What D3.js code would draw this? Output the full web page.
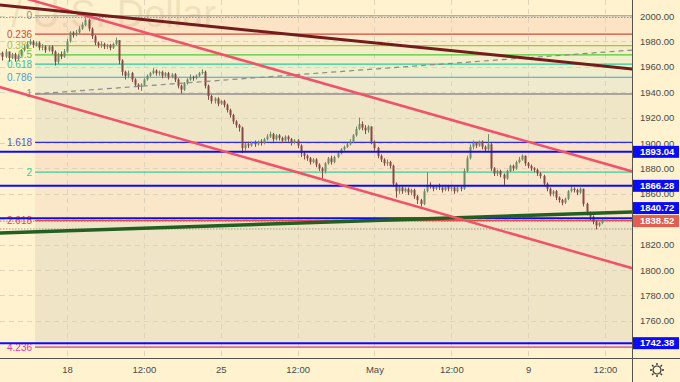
<!DOCTYPE html>
<html>
<head>
<meta charset="utf-8">
<script src="https://cdn.jsdelivr.net/npm/d3@7"></script>
<style>
  html, body { margin: 0; padding: 0; background: #fff3cf; }
  svg { display: block; font-family: "Liberation Sans", Arial, sans-serif; }
</style>
</head>
<body>
<svg id="chart" width="680" height="382"></svg>
<script>
// candles, one per bar index (open = previous close)
var firstOpen = 1969;
var closes = [
  1971,1968,1972,1967,1970,1966,1969,1973,1975,1978,
  1980,1977,1979,1975,1976,1973,1976,1972,1964,1970,
  1968,1972,1980,1987,1985,1987,1990,1993,1997,1990,
  1984,1979,1977,1978,1976,1977,1975,1978,1981,1965,
  1956,1953,1955,1950,1946,1944,1946,1950,1953,1955,
  1957,1955,1956,1953,1955,1952,1954,1950,1945,1942,
  1947,1950,1952,1951,1953,1955,1956,1945,1937,1933,
  1935,1931,1933,1930,1926,1922,1917,1914,1912,1896,
  1899,1898,1900,1899,1901,1900,1903,1905,1907,1903,
  1906,1904,1902,1905,1903,1900,1902,1898,1892,1890,
  1888,1885,1887,1883,1880,1878,1884,1888,1885,1889,
  1892,1895,1897,1899,1901,1906,1911,1915,1912,1910,
  1913,1901,1896,1890,1887,1884,1885,1882,1868,1862,
  1865,1862,1864,1861,1863,1858,1855,1852,1862,1867,
  1866,1864,1866,1865,1863,1866,1864,1865,1862,1865,
  1864,1878,1888,1897,1900,1898,1901,1897,1895,1899,
  1880,1876,1878,1875,1872,1878,1882,1880,1885,1887,
  1890,1884,1882,1880,1879,1876,1874,1868,1864,1860,
  1862,1857,1855,1853,1856,1862,1864,1863,1861,1864,
  1852,1845,1842,1838,1835,1837,1838.52
];
var highs = [
  1973,1972,1974,1972,1971,1971,1970,1974,1977,1980,
  1982,1981,1980,1980,1978,1977,1977,1977,1973,1971,
  1972,1974,1982,1988,1988,1989,1992,1995,1999,1998,
  1991,1985,1980,1980,1979,1978,1978,1979,1983,1981,
  1966,1957,1957,1956,1951,1947,1947,1951,1954,1956,
  1959,1958,1957,1957,1956,1956,1955,1955,1951,1946,
  1948,1951,1954,1953,1954,1956,1958,1957,1946,1938,
  1936,1936,1934,1934,1931,1927,1923,1918,1915,1913,
  1900,1901,1901,1902,1902,1903,1904,1907,1909,1908,
  1907,1907,1905,1906,1906,1904,1903,1903,1899,1893,
  1891,1889,1888,1888,1884,1881,1885,1889,1890,1890,
  1893,1896,1898,1900,1903,1907,1913,1920,1917,1914,
  1914,1913,1902,1897,1891,1888,1887,1886,1883,1869,
  1866,1866,1865,1865,1864,1864,1859,1856,1864,1877,
  1869,1867,1867,1868,1866,1867,1867,1866,1866,1866,
  1866,1880,1890,1899,1902,1901,1902,1902,1898,1907,
  1900,1881,1879,1879,1876,1879,1883,1883,1886,1889,
  1891,1890,1885,1883,1881,1880,1877,1875,1869,1865,
  1863,1863,1858,1856,1857,1863,1866,1865,1864,1865,
  1864,1853,1846,1843,1839,1838,1840
];
var lows = [
  1967,1965,1967,1964,1966,1964,1965,1968,1972,1974,
  1977,1975,1976,1973,1973,1971,1972,1970,1961,1962,
  1966,1967,1971,1979,1983,1984,1986,1989,1992,1988,
  1982,1977,1975,1975,1974,1974,1973,1974,1977,1962,
  1953,1950,1951,1948,1944,1942,1941,1945,1949,1952,
  1954,1953,1953,1951,1952,1950,1951,1948,1943,1939,
  1941,1946,1949,1949,1950,1952,1954,1943,1934,1931,
  1931,1929,1930,1928,1924,1920,1915,1912,1909,1892,
  1894,1896,1897,1897,1898,1898,1899,1902,1904,1901,
  1902,1902,1900,1901,1901,1898,1899,1896,1889,1887,
  1886,1883,1884,1881,1878,1872,1876,1883,1883,1884,
  1888,1891,1894,1896,1898,1900,1905,1910,1910,1907,
  1908,1899,1894,1888,1885,1882,1882,1880,1866,1857,
  1860,1860,1861,1859,1859,1856,1852,1850,1851,1861,
  1864,1862,1863,1863,1861,1862,1862,1862,1860,1861,
  1862,1863,1877,1887,1895,1896,1897,1895,1893,1894,
  1878,1874,1874,1873,1867,1871,1877,1878,1879,1884,
  1886,1882,1880,1878,1877,1874,1872,1866,1862,1858,
  1858,1855,1853,1851,1852,1855,1861,1861,1859,1860,
  1850,1843,1839,1836,1832,1834,1836
];

var timeTicks = [22, 47, 72, 97, 122, 147, 172, 197];
var timeLabels = ["18", "12:00", "25", "12:00", "May", "12:00", "9", "12:00"];
var priceTicks = [1760, 1780, 1800, 1820, 1840, 1860, 1880, 1900, 1920, 1940, 1960, 1980, 2000];

// fibonacci retracement
var fibRatios = [0, 0.236, 0.382, 0.5, 0.618, 0.786, 1, 1.618, 2, 2.618, 4.236];
var fibLabels = ["0", "0.236", "0.382", "0.5", "0.618", "0.786", "1", "1.618", "2", "2.618", "4.236"];
var fibHigh = 2000.2, fibLow = 1938.6, fibStart = 11.6;

// horizontal levels and price tags
var levelPrices = [1893.04, 1866.28, 1840.72, 1742.38];
var lastPrice = 1838.52;
var visibleHigh = 1998.8, visibleLow = 1832.3;

// drawn trend lines [bar index, price]
var maroonLine = [[0, 2008.7], [206, 1958.3]];
var channelTop = [[0, 2019.7], [206, 1877.5]];
var channelBottom = [[0, 1944.1], [206, 1801.3]];
var greenLine = [[0, 1829.1], [206, 1845.7]];
var fibTrend = [[fibStart, fibLow], [206, 1973.2]];

var fibColors = ["#9a9a9a", "#cf4a3c", "#a5c23a", "#4fcc36", "#2ec99c", "#4a9fd6", "#aaa49c", "#2a2af0", "#36cf9c", "#ee4646", "#de3a9e"];
var fibLabelColors = ["#8a8a8a", "#cf4a3c", "#a5c23a", "#4fcc36", "#2ec99c", "#4a9fd6", "#8a8a8a", "#5555d0", "#36cf9c", "#ee4646", "#de3a9e"];
var bandFills = ["#fbe3c4", "#f9ecca", "#f4eec8", "#f0efca", "#eeedcc", "#efe9cd", "#efe5c7", "#fbe3c5", "#fae6c8", "#efe5c6"];

var W = 680, H = 382, plotW = 632, plotH = 358;
var svg = d3.select("#chart");

var x = d3.scaleLinear().domain([22, 197]).range([67, 605]);
var y = d3.scaleLinear().domain([1730.7, 2012.6]).range([plotH, 0]);
function fibPrice(r) { return fibHigh - r * (fibHigh - fibLow); }

svg.append("rect").attr("width", W).attr("height", H).attr("fill", "#fff3cf");

svg.append("defs").append("clipPath").attr("id", "plotclip")
  .append("rect").attr("width", plotW).attr("height", plotH);
var plot = svg.append("g").attr("clip-path", "url(#plotclip)");

// fib bands
var bands = d3.range(fibRatios.length - 1).map(function (i) {
  return { a: fibPrice(fibRatios[i]), b: fibPrice(fibRatios[i + 1]), fill: bandFills[i] };
});
plot.selectAll("rect.band").data(bands).enter().append("rect")
  .attr("class", "band")
  .attr("x", x(fibStart))
  .attr("width", plotW - x(fibStart))
  .attr("y", function (d) { return y(d.a); })
  .attr("height", function (d) { return y(d.b) - y(d.a); })
  .attr("fill", function (d) { return d.fill; });

// grid
plot.selectAll("line.hgrid").data(priceTicks).enter().append("line")
  .attr("x1", 0).attr("x2", plotW)
  .attr("y1", function (d) { return Math.round(y(d)) + 0.5; })
  .attr("y2", function (d) { return Math.round(y(d)) + 0.5; })
  .attr("stroke", "#ddd4bb").attr("stroke-dasharray", "5,4");
plot.selectAll("line.vgrid").data(timeTicks).enter().append("line")
  .attr("y1", 0).attr("y2", plotH)
  .attr("x1", function (d) { return Math.round(x(d)) + 0.5; })
  .attr("x2", function (d) { return Math.round(x(d)) + 0.5; })
  .attr("stroke", "#ddd4bb").attr("stroke-dasharray", "5,4");

// watermark
plot.append("text").attr("x", 216).attr("y", 27).attr("text-anchor", "end")
  .attr("font-size", 38).attr("fill", "#b8a67a").attr("opacity", 0.22)
  .text("Gold Spot / U.S. Dollar");

// fib levels and labels
plot.selectAll("line.fib").data(fibRatios).enter().append("line")
  .attr("x1", x(fibStart)).attr("x2", plotW)
  .attr("y1", function (d) { return y(fibPrice(d)); })
  .attr("y2", function (d) { return y(fibPrice(d)); })
  .attr("stroke", function (d, i) { return fibColors[i]; })
  .attr("stroke-width", function (d) { return d === 1 ? 2 : 1.2; });
plot.selectAll("text.fib").data(fibRatios).enter().append("text")
  .attr("x", x(fibStart) - 3)
  .attr("y", function (d) { return y(fibPrice(d)); })
  .attr("dy", "0.35em").attr("text-anchor", "end").attr("font-size", 10)
  .attr("fill", function (d, i) { return fibLabelColors[i]; })
  .text(function (d, i) { return fibLabels[i]; });

// dotted visible high/low and last price lines
[[visibleHigh, "#9a968c"], [visibleLow, "#9a968c"], [lastPrice, "#e35d50"]].forEach(function (p) {
  plot.append("line").attr("x1", 0).attr("x2", plotW)
    .attr("y1", y(p[0])).attr("y2", y(p[0]))
    .attr("stroke", p[1]).attr("stroke-dasharray", "1.5,1.5");
});

// candles
var candles = closes.map(function (c, i) {
  return { i: i, o: i === 0 ? firstOpen : closes[i - 1], c: c, h: highs[i], l: lows[i] };
});
var cg = plot.append("g");
cg.selectAll("line.wick").data(candles).enter().append("line")
  .attr("x1", function (d) { return Math.round(x(d.i)) + 0.5; })
  .attr("x2", function (d) { return Math.round(x(d.i)) + 0.5; })
  .attr("y1", function (d) { return y(d.h); })
  .attr("y2", function (d) { return y(d.l); })
  .attr("stroke", function (d) { return d.c >= d.o ? "#6f8c68" : "#864a45"; });
cg.selectAll("rect.body").data(candles).enter().append("rect")
  .attr("x", function (d) { return Math.round(x(d.i)) - 0.5; })
  .attr("width", 2)
  .attr("y", function (d) { return y(Math.max(d.o, d.c)); })
  .attr("height", function (d) { return Math.max(1, Math.abs(y(d.o) - y(d.c))); })
  .attr("fill", function (d) { return d.c >= d.o ? "#6f8c68" : "#864a45"; });

// horizontal levels
plot.selectAll("line.level").data(levelPrices).enter().append("line")
  .attr("x1", 0).attr("x2", plotW)
  .attr("y1", function (d) { return y(d); })
  .attr("y2", function (d) { return y(d); })
  .attr("stroke", "#0a0aff").attr("stroke-width", 2);

// trend lines
var line = d3.line().x(function (d) { return x(d[0]); }).y(function (d) { return y(d[1]); });
plot.append("path").datum(fibTrend).attr("d", line).attr("fill", "none")
  .attr("stroke", "#8f8a82").attr("stroke-width", 1.2).attr("stroke-dasharray", "5,4");
plot.append("path").datum(greenLine).attr("d", line).attr("fill", "none")
  .attr("stroke", "#245f22").attr("stroke-width", 3.5);
[channelTop, channelBottom].forEach(function (l) {
  plot.append("path").datum(l).attr("d", line).attr("fill", "none")
    .attr("stroke", "#f2516a").attr("stroke-width", 2.5);
});
plot.append("path").datum(maroonLine).attr("d", line).attr("fill", "none")
  .attr("stroke", "#731c1c").attr("stroke-width", 3);

// axes borders
svg.append("line").attr("x1", plotW + 0.5).attr("x2", plotW + 0.5).attr("y1", 0).attr("y2", H)
  .attr("stroke", "#55524a");
svg.append("line").attr("x1", 0).attr("x2", W).attr("y1", plotH + 0.5).attr("y2", plotH + 0.5)
  .attr("stroke", "#55524a");

// price axis
var yAxis = svg.append("g").attr("transform", "translate(" + plotW + ",0)")
  .call(d3.axisRight(y).tickValues(priceTicks).tickFormat(d3.format(".2f")).tickSize(0).tickPadding(8));
yAxis.select(".domain").remove();
yAxis.selectAll("text").attr("font-size", 9.5).attr("fill", "#4a4a4a")
  .attr("font-family", "Liberation Sans, Arial, sans-serif");

// time axis
var xAxis = svg.append("g").attr("transform", "translate(0," + plotH + ")")
  .call(d3.axisBottom(x).tickValues(timeTicks)
    .tickFormat(function (d, i) { return timeLabels[i]; }).tickSize(0).tickPadding(8));
xAxis.select(".domain").remove();
xAxis.selectAll("text").attr("font-size", 9.5).attr("fill", "#4a4a4a")
  .attr("font-family", "Liberation Sans, Arial, sans-serif");

// price tags, pushed up when they collide
var tags = levelPrices.map(function (p) { return { p: p, fill: "#0a0aff" }; })
  .concat([{ p: lastPrice, fill: "#e35d50" }]);
tags.sort(function (a, b) { return a.p - b.p; });
var tagH = 12, tagGap = 13;
tags.forEach(function (t, k) {
  t.cy = y(t.p);
  if (k > 0 && tags[k - 1].cy - t.cy < tagGap) t.cy = tags[k - 1].cy - tagGap;
});
var tg = svg.selectAll("g.tag").data(tags).enter().append("g");
tg.append("rect").attr("x", plotW + 1).attr("width", W - plotW - 2)
  .attr("y", function (d) { return d.cy - tagH / 2; }).attr("height", tagH)
  .attr("fill", function (d) { return d.fill; });
tg.append("text").attr("x", plotW + 8).attr("y", function (d) { return d.cy; })
  .attr("dy", "0.35em").attr("font-size", 9.5).attr("font-weight", "bold").attr("fill", "#fff")
  .text(function (d) { return d3.format(".2f")(d.p); });

// settings icon
var gear = svg.append("g").attr("transform", "translate(657,370)")
  .attr("stroke", "#333").attr("fill", "none");
gear.append("circle").attr("r", 4).attr("stroke-width", 1.2);
gear.selectAll("line").data(d3.range(8)).enter().append("line")
  .attr("x1", function (d) { return 5 * Math.cos(d * Math.PI / 4); })
  .attr("y1", function (d) { return 5 * Math.sin(d * Math.PI / 4); })
  .attr("x2", function (d) { return 7 * Math.cos(d * Math.PI / 4); })
  .attr("y2", function (d) { return 7 * Math.sin(d * Math.PI / 4); })
  .attr("stroke-width", 1.4);
</script>
</body>
</html>
